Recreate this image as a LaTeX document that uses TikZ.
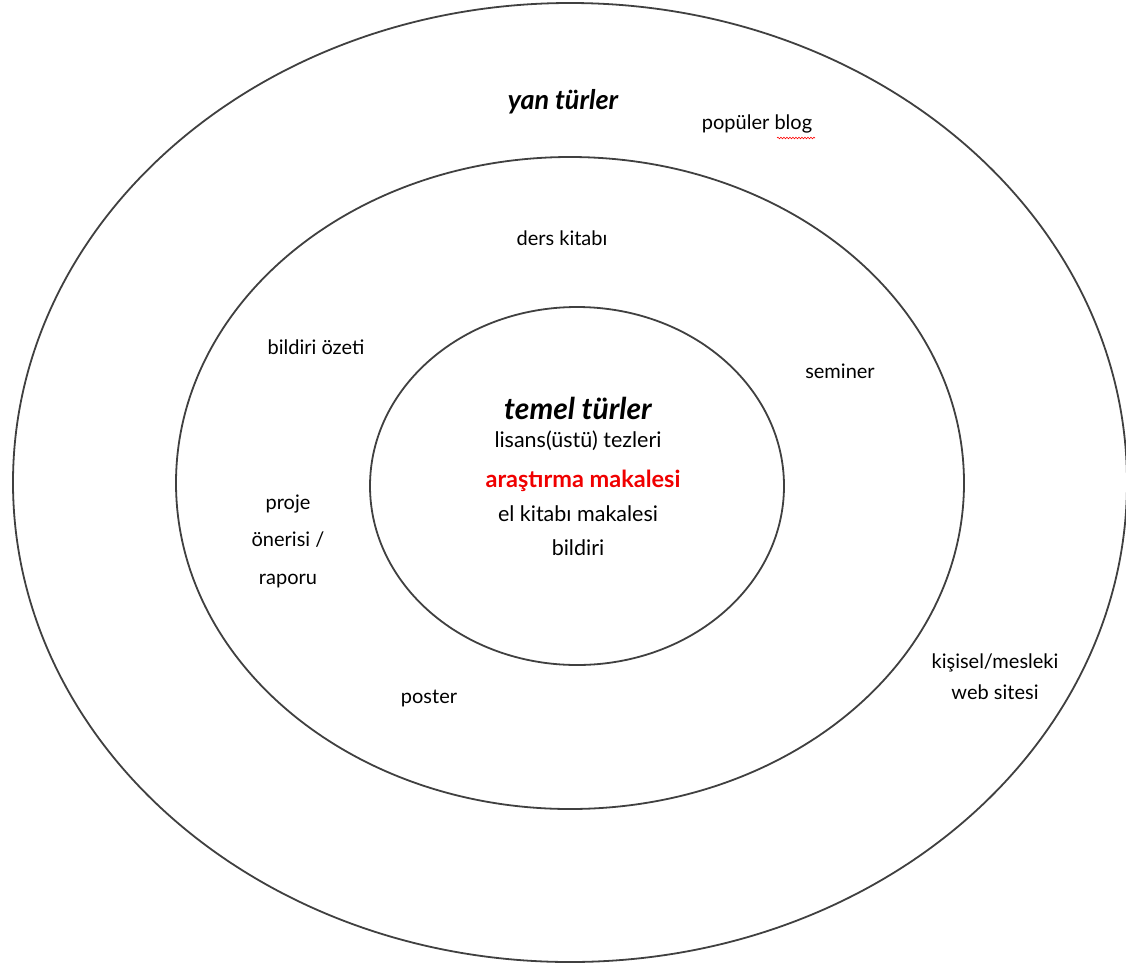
\documentclass[tikz,border=0pt]{standalone}
\usepackage{fontspec}
\setmainfont{Lato}
\usetikzlibrary{decorations.pathmorphing}
\definecolor{ringgray}{HTML}{404040}
\definecolor{redtxt}{HTML}{F00000}
\tikzset{
  ring/.style={draw=ringgray, line width=1.8pt},
  lbl/.style={font=\fontsize{20}{31}\selectfont, text=black, align=center, inner sep=0pt},
  inlbl/.style={font=\fontsize{21.5}{25}\selectfont, text=black, align=center, inner sep=0pt},
  head/.style={font=\fontsize{27}{30}\selectfont\bfseries\itshape, text=black, inner sep=0pt},
  bighead/.style={font=\fontsize{30}{33}\selectfont\bfseries\itshape, text=black, inner sep=0pt},
  hot/.style={font=\fontsize{23.5}{26}\selectfont\bfseries, text=redtxt, inner sep=0pt},
}
\begin{document}
\begin{tikzpicture}[x=1pt,y=-1pt]
\useasboundingbox (0,0) rectangle (1126,964);
\fill[white] (0,0) rectangle (1126,964);
% rings
\draw[ring] (570,482.5) ellipse [x radius=557, y radius=479.5];
\draw[ring] (570,483) ellipse [x radius=394, y radius=326];
\draw[ring] (577,486) ellipse [x radius=207, y radius=179];
% outer ring labels
\node[head] (yan) at (563,102) {yan türler};
\node[lbl] (blog) at (757,124) {popüler blog};
\coordinate (wl) at (777,138);
\coordinate (wr) at (815,138);
\draw[red, line width=0.6pt, decorate, decoration={snake, amplitude=0.8pt, segment length=3pt}] (wl) -- (wr);
\node[lbl] (web) at (995,677) {kişisel/mesleki\\web sitesi};
% middle ring labels
\node[lbl] (ders) at (562,238) {ders kitabı};
\node[lbl] (ozet) at (316,347) {bildiri özeti};
\node[lbl] (sem) at (840,371) {seminer};
\node[lbl, font=\fontsize{20}{37.5}\selectfont] (proje) at (288,541) {proje\\önerisi /\\raporu};
\node[lbl] (poster) at (429,698) {poster};
% inner ring labels
\node[bighead] (temel) at (578,408) {temel türler};
\node[inlbl] (tez) at (578,441) {lisans(üstü) tezleri};
\node[hot] (ara) at (583,481) {araştırma makalesi};
\node[inlbl] (el) at (578,514) {el kitabı makalesi};
\node[inlbl] (bil) at (578,548) {bildiri};
\end{tikzpicture}
\end{document}
